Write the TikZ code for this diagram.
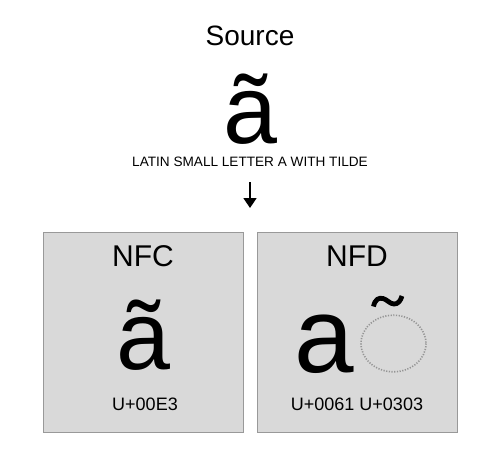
\documentclass[tikz,border=0pt]{standalone}
\usepackage{fontspec}
\setmainfont{Liberation Sans}
\usetikzlibrary{arrows.meta}
\definecolor{boxfill}{HTML}{D9D9D9}
\definecolor{boxline}{HTML}{999999}
\definecolor{dotgray}{HTML}{949494}
\begin{document}
\begin{tikzpicture}[x=1pt,y=-1pt,
  formbox/.style={draw=boxline,fill=boxfill,line width=0.8pt},
  txt/.style={inner sep=0pt,outer sep=0pt,anchor=base},
  title/.style={txt,font=\fontsize{28}{30}\selectfont},
  glyph/.style={txt,text depth=0pt,font=\fontsize{97}{100}\selectfont},
  code/.style={txt,font=\fontsize{18}{20}\selectfont}]
\useasboundingbox (0,0) rectangle (500,450);
\fill[white] (0,0) rectangle (500,450);
% boxes
\draw[formbox] (43.5,232.5) rectangle (243,432);
\draw[formbox] (257.5,232.5) rectangle (457,432);
% source
\node[title] (src) at (250,45) {Source};
\node[glyph] (srcglyph) at (250,143) {ã};
\node[txt,text height=9.8pt,font=\fontsize{13.6}{15}\selectfont] (srcname) at (250,166) {LATIN SMALL LETTER A WITH TILDE};
\coordinate (arrtop) at (250,182);
\coordinate (arrtip) at (250,208);
\draw[line width=1.6pt,-{Triangle[length=10pt,width=13pt]}] (arrtop) -- (arrtip);
% NFC
\node[title,font=\fontsize{30}{32}\selectfont] (nfc) at (143,266) {NFC};
\node[glyph] (nfcglyph) at (143,369) {ã};
\node[code] (nfccode) at (145,410) {U+00E3};
% NFD
\node[title,font=\fontsize{30}{32}\selectfont] (nfd) at (357,266) {NFD};
\node[glyph,font=\fontsize{107}{110}\selectfont] (nfda) at (324,372.5) {a};
\draw[dotgray,line width=1.6pt,dash pattern=on 1.2pt off 1.5pt] (393.5,343.5) ellipse [x radius=32.5,y radius=28.3];
\coordinate (tildeL) at (373.5,306.5);
\coordinate (tildeR) at (402,296);
\draw[line width=4.8pt] (tildeL) .. controls (375,299) and (379,297.5) .. (383,298.5)
  .. controls (387,299.5) and (390,304) .. (394,304)
  .. controls (398,304) and (400.5,301) .. (tildeR);
\node[code] (nfdcode) at (357,410) {U+0061 U+0303};
\end{tikzpicture}
\end{document}
